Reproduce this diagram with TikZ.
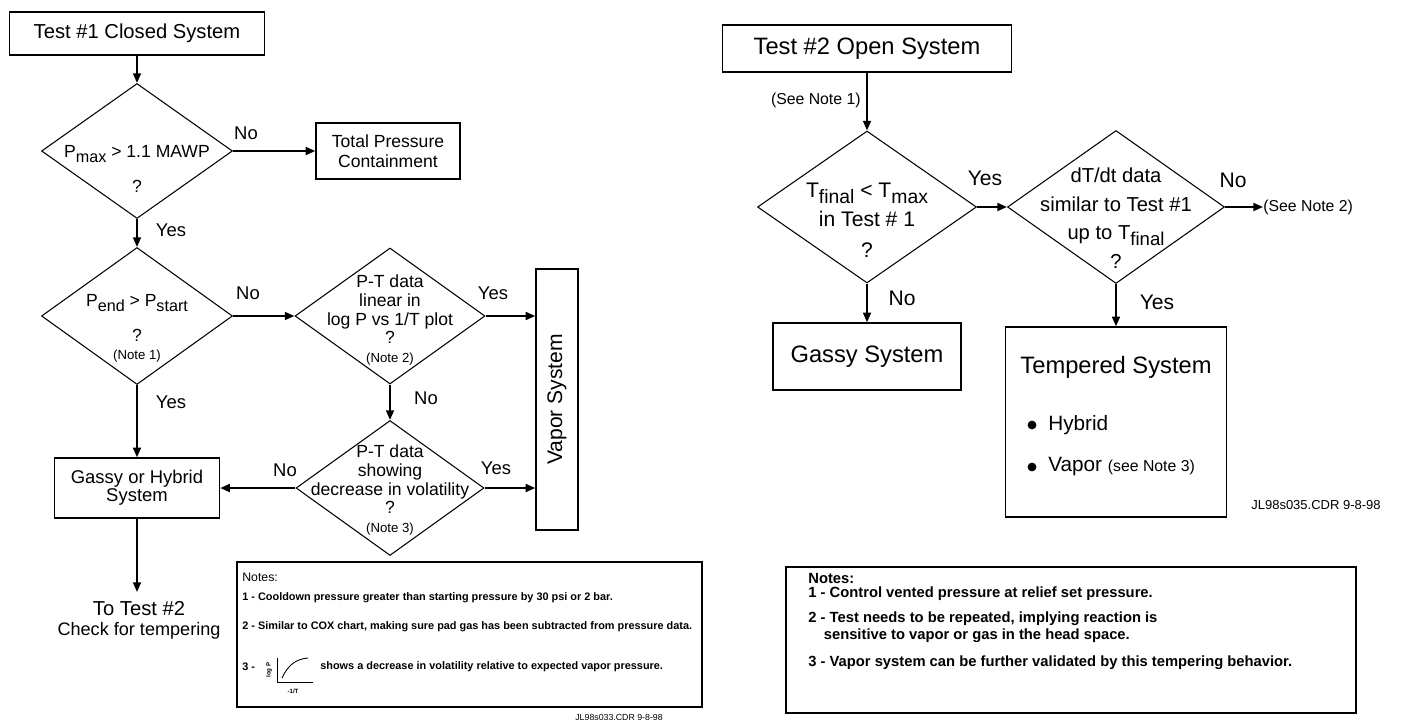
\documentclass[tikz,border=0pt]{standalone}
\usepackage{fontspec}
\usepackage{graphicx}
\setmainfont{Liberation Sans}
\usetikzlibrary{shapes.geometric, arrows.meta}

\newcommand{\fsz}[2]{\fontsize{#1}{#2}\selectfont}
\newcommand{\lowsub}[1]{\raisebox{-0.55ex}{\scalebox{0.92}{#1}}}

\tikzset{
  box/.style={draw, line width=0.8pt, rectangle, inner sep=0pt, align=center},
  decision/.style={draw, diamond, line width=0.6pt, inner sep=0pt},
  flow/.style={line width=1.1pt, -{Triangle[length=5.5pt, width=4.5pt]}},
  lbl/.style={inner sep=0pt, font=\fsz{10.5pt}{12pt}},
  rlbl/.style={inner sep=0pt, font=\fsz{12pt}{14pt}},
  dtext/.style={inner sep=0pt, align=center},
  note/.style={inner sep=0pt, anchor=west, font=\bfseries\fsz{6.2pt}{7pt}},
}

\begin{document}
\begin{tikzpicture}[x=0.02cm, y=-0.02cm]
  \useasboundingbox (0,0) rectangle (1404,720);

  % Test #1 column
  \node[box, minimum width=5.1cm, minimum height=0.86cm, font=\fsz{11.5pt}{14pt}] (t1) at (137,33.5) {Test \#1 Closed System};

  \node[decision, minimum width=3.82cm, minimum height=2.7cm] (q1) at (137,151) {};
  \node[dtext, font=\fsz{10pt}{11pt}] (q1t) at (137,169) {P\lowsub{max} > 1.1 MAWP\\[9pt]?};

  \node[box, minimum width=2.88cm, minimum height=1.12cm, font=\fsz{10pt}{11.4pt}] (tp) at (388,151) {Total Pressure\\Containment};

  \node[decision, minimum width=3.82cm, minimum height=2.74cm] (q2) at (137,316) {};
  \node[dtext, font=\fsz{10pt}{11pt}] (q2t) at (137,328) {P\lowsub{end} > P\lowsub{start}\\[9pt]?\\[-1pt]{\fsz{7.5pt}{9pt}(Note 1)}};

  \node[decision, minimum width=3.8cm, minimum height=2.72cm] (q3) at (390,316) {};
  \node[dtext, font=\fsz{10pt}{10.8pt}] (q3t) at (390,320) {P-T data\\linear in\\log P vs 1/T plot\\?\\{\fsz{7.5pt}{9pt}(Note 2)}};

  \node[decision, minimum width=3.76cm, minimum height=2.7cm] (q4) at (390,488) {};
  \node[dtext, font=\fsz{10pt}{10.7pt}] (q4t) at (390,490) {P-T data\\showing\\decrease in volatility\\?\\{\fsz{7.5pt}{9pt}(Note 3)}};

  \node[box, minimum width=0.84cm, minimum height=5.22cm] (vs) at (557,399.5) {};
  \node[rotate=90, inner sep=0pt, font=\fsz{12pt}{14pt}] (vst) at (557,399.5) {Vapor System};

  \node[box, minimum width=3.3cm, minimum height=1.2cm, font=\fsz{10.5pt}{10.3pt}] (gh) at (137,488) {Gassy or Hybrid\\System};

  \coordinate (to2) at (137,592);
  \node[dtext, font=\fsz{11.5pt}{11.5pt}] (to2t) at (139,620) {To Test \#2\\{\fsz{10.3pt}{11pt}Check for tempering}};

  % Connectors, left
  \draw[flow] (t1) -- (q1);
  \draw[flow] (q1) -- (tp);
  \draw[flow] (q1) -- (q2);
  \draw[flow] (q2) -- (q3);
  \draw[flow] (q2) -- (gh);
  \draw[flow] (q3.east) -- (q3.east -| vs.west);
  \draw[flow] (q3) -- (q4);
  \draw[flow] (q4.east) -- (q4.east -| vs.west);
  \draw[flow] (q4) -- (gh);
  \draw[flow] (gh) -- (to2);

  \node[lbl] (l1) at (246,133) {No};
  \node[lbl] (l2) at (171,230) {Yes};
  \node[lbl] (l3) at (248,293) {No};
  \node[lbl] (l4) at (171,402) {Yes};
  \node[lbl] (l5) at (426,398) {No};
  \node[lbl] (l6) at (493,293) {Yes};
  \node[lbl] (l7) at (285,470) {No};
  \node[lbl] (l8) at (496,468) {Yes};

  % Notes, left
  \node[box, minimum width=9.3cm, minimum height=2.9cm] (n1) at (469.5,634.5) {};
  \node[inner sep=0pt, anchor=west, font=\fsz{7pt}{8pt}] (n1h) at (242,577) {Notes:};
  \node[note] (n1a) at (242,598) {1 - Cooldown pressure greater than starting pressure by 30 psi or 2 bar.};
  \node[note] (n1b) at (242,627) {2 - Similar to COX chart, making sure pad gas has been subtracted from pressure data.};
  \node[note] (n1c) at (242,667) {3 -};
  \node[note] (n1d) at (320,667) {shows a decrease in volatility relative to expected vapor pressure.};
  \draw[line width=0.5pt] (277,658) -- (277,682) -- (313,682);
  \draw[line width=0.5pt] (282,678) .. controls (288,665) and (296,659) .. (308,658);
  \node[rotate=90, inner sep=0pt, font=\bfseries\fsz{3.5pt}{4pt}] (n1y) at (269,670) {log P};
  \node[inner sep=0pt, font=\bfseries\fsz{3.5pt}{4pt}] (n1x) at (293,691) {-1/T};
  \node[inner sep=0pt, anchor=west, font=\fsz{5pt}{6pt}] (id1) at (575,717) {JL98s033.CDR 9-8-98};

  % Test #2 column
  \node[box, minimum width=5.78cm, minimum height=0.94cm, font=\fsz{13.5pt}{16pt}] (t2) at (867,48.5) {Test \#2 Open System};
  \node[inner sep=0pt, anchor=east, font=\fsz{9pt}{10pt}] (sn1) at (861,100) {(See Note 1)};

  \node[decision, minimum width=4.38cm, minimum height=3.04cm] (q5) at (867,207) {};
  \node[dtext, font=\fsz{12pt}{13.7pt}] (q5t) at (867,220) {T\lowsub{final} < T\lowsub{max}\\[3pt]in Test \# 1\\[4pt]?};

  \node[decision, minimum width=4.34cm, minimum height=3.06cm] (q6) at (1116,207) {};
  \node[dtext, font=\fsz{11.5pt}{16.3pt}] (q6t) at (1116,218) {dT/dt data\\similar to Test \#1\\up to T\lowsub{final}\\?};

  \node[inner sep=0pt, anchor=west, font=\fsz{9pt}{10pt}] (sn2) at (1263,207) {(See Note 2)};

  \node[box, minimum width=3.76cm, minimum height=1.34cm, font=\fsz{13.5pt}{16pt}] (gs) at (867,356.5) {Gassy System};
  \node[box, minimum width=4.42cm, minimum height=3.8cm] (tmp) at (1116,422) {};
  \node[inner sep=0pt, font=\fsz{13.5pt}{16pt}] (tmpt) at (1116,367) {Tempered System};
  \filldraw[black] (1032,425) circle (0.08cm);
  \filldraw[black] (1032,467) circle (0.08cm);
  \node[inner sep=0pt, anchor=west, font=\fsz{11.8pt}{14pt}] (hy) at (1048,425) {Hybrid};
  \node[inner sep=0pt, anchor=west, font=\fsz{11.8pt}{14pt}] (va) at (1048,467) {Vapor {\fsz{9pt}{10pt}(see Note 3)}};
  \node[inner sep=0pt, font=\fsz{7.4pt}{9pt}] (id2) at (1316,505) {JL98s035.CDR 9-8-98};

  % Connectors, right
  \draw[flow] (t2) -- (q5);
  \draw[flow] (q5) -- (q6);
  \draw[flow] (q6) -- (sn2);
  \draw[flow] (q5) -- (gs);
  \draw[flow] (q6) -- (tmp);

  \node[rlbl] (r1) at (985,178) {Yes};
  \node[rlbl] (r2) at (1233,180) {No};
  \node[rlbl] (r3) at (902,298) {No};
  \node[rlbl] (r4) at (1157,302) {Yes};

  % Notes, right
  \node[box, minimum width=11.4cm, minimum height=2.92cm] (n2) at (1071,640) {};
  \node[note, font=\bfseries\fsz{8.4pt}{9pt}] (n2h) at (808,578) {Notes:};
  \node[note, font=\bfseries\fsz{8.4pt}{9pt}] (n2a) at (808,594) {1 - Control vented pressure at relief set pressure.};
  \node[note, font=\bfseries\fsz{8.4pt}{9.5pt}, align=left] (n2b) at (808,627) {2 - Test needs to be repeated, implying reaction is\\\hspace{1.05em}sensitive to vapor or gas in the head space.};
  \node[note, font=\bfseries\fsz{8.4pt}{9pt}] (n2c) at (808,663) {3 - Vapor system can be further validated by this tempering behavior.};

\end{tikzpicture}
\end{document}
